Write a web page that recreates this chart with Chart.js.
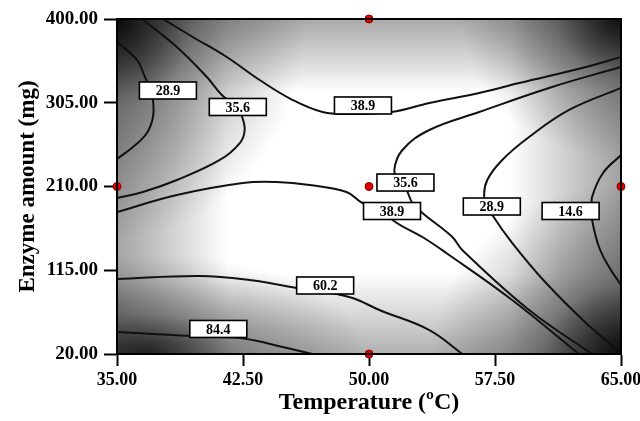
<!DOCTYPE html>
<html>
<head>
<meta charset="utf-8">
<script src="https://cdn.jsdelivr.net/npm/chart.js@4.4.0/dist/chart.umd.min.js"></script>
<style>
  html, body { margin: 0; padding: 0; background: #fff; }
  #wrap { width: 640px; height: 421px; }
</style>
</head>
<body>
<div id="wrap"><canvas id="chart" width="640" height="421"></canvas></div>
<script>
// axis ticks
const xTicks = [35, 42.5, 50, 57.5, 65];
const yTicks = [20, 115, 210, 305, 400];

// contour lines, [temperature, enzyme amount] pairs
const line289Left = [[35.00, 373.9], [36.19, 353.5], [36.66, 334.2], [36.96, 321.7], [37.14, 308.1],
  [37.14, 288.8], [36.78, 270.7], [35.95, 254.8], [35.00, 241.2]];
const line356Left = [[36.49, 400], [38.56, 368.2], [40.35, 334.2], [41.24, 313.8], [42.19, 299.0],
  [42.43, 290.0], [42.60, 274.1], [42.31, 259.3], [41.12, 240.1], [38.56, 217.4], [36.54, 203.8], [35.00, 197.0]];
const line389Top = [[37.73, 400], [39.51, 379.6], [41.53, 356.9], [43.49, 330.8], [45.46, 308.1],
  [47.24, 294.5], [48.84, 292.2], [51.34, 294.5], [53.59, 304.7], [56.56, 316.1], [58.94, 327.4],
  [62.92, 345.6], [65.00, 356.9]];
const line356Right = [[65.00, 345.6], [60.90, 322.9], [56.56, 294.5], [53.59, 274.1], [51.99, 251.4],
  [51.51, 228.7], [51.81, 215.1], [52.23, 206.0], [52.58, 191.3], [53.18, 179.9], [54.96, 152.7],
  [55.55, 138.0], [59.53, 69.9], [63.28, 20]];
const line389Low = [[35.00, 181.1], [38.56, 200.4], [42.49, 214.0], [44.50, 215.1], [46.47, 211.7],
  [48.66, 203.8], [49.61, 191.3], [51.22, 181.1], [51.40, 172.0], [53.18, 152.7], [54.60, 134.6],
  [58.52, 81.3], [62.50, 20]];
const line289Right = [[65.00, 321.7], [61.91, 296.8], [59.53, 266.1], [57.93, 240.1], [57.04, 217.4],
  [56.86, 198.1], [57.16, 186.7], [57.34, 177.7], [58.53, 145.9], [60.54, 100.5], [62.92, 55.2], [65.00, 21.1]];
const line146 = [[65.00, 245.7], [63.93, 225.3], [63.28, 198.1], [63.28, 183.3], [63.28, 172.0],
  [63.69, 141.4], [64.29, 118.7], [65.00, 98.3]];
const line602 = [[35.00, 105.1], [39.93, 108.5], [42.90, 103.9], [45.69, 94.9], [47.36, 90.3],
  [49.02, 83.5], [50.62, 69.9], [53.59, 47.2], [55.56, 20]];
const line844 = [[35.00, 45.0], [39.34, 40.4], [41.00, 39.3], [42.72, 37.0], [44.86, 27.9], [46.64, 20]];

// contour labels
const labelTemps = [38.03, 42.19, 49.64, 52.17, 51.37, 57.31, 62.00, 47.39, 41.03];
const labelAmounts = [318.9, 300.2, 301.9, 214.5, 182.2, 187.3, 182.2, 97.7, 48.4];
const labelTexts = ['28.9', '35.6', '38.9', '35.6', '38.9', '28.9', '14.6', '60.2', '84.4'];

// design points (red)
const designTemps = [35, 50, 50, 50, 65];
const designAmounts = [210, 400, 210, 20, 210];

const contourLines = [line289Left, line356Left, line389Top, line356Right, line389Low,
  line289Right, line146, line602, line844];

const serif = "'Liberation Serif', 'Times New Roman', serif";

// grey shading behind the contours
const shading = {
  id: 'shading',
  beforeDraw(chart) {
    const { ctx, chartArea: a } = chart;
    const w = a.right - a.left, h = a.bottom - a.top;
    ctx.save();
    ctx.beginPath();
    ctx.rect(a.left, a.top, w, h);
    ctx.clip();
    ctx.fillStyle = '#fff';
    ctx.fillRect(a.left, a.top, w, h);

    ctx.globalCompositeOperation = 'multiply';
    let g = ctx.createLinearGradient(a.left, 0, a.right, 0);
    g.addColorStop(0, '#a4a4a4');
    g.addColorStop(0.22, '#fff');
    g.addColorStop(0.78, '#fff');
    g.addColorStop(1, '#a0a0a0');
    ctx.fillStyle = g;
    ctx.fillRect(a.left, a.top, w, h);
    g = ctx.createLinearGradient(0, a.top, 0, a.bottom);
    g.addColorStop(0, '#a8a8a8');
    g.addColorStop(0.22, '#fff');
    g.addColorStop(0.76, '#fff');
    g.addColorStop(1, '#b0b0b0');
    ctx.fillStyle = g;
    ctx.fillRect(a.left, a.top, w, h);
    ctx.globalCompositeOperation = 'source-over';

    // dark corners: [x, y, rx, ry, alpha]
    const corners = [
      [a.left, a.top, 190, 220, 0.9],
      [a.right, a.top, 160, 140, 0.85],
      [a.left + 30, a.bottom, 220, 100, 0.75],
      [a.right, a.bottom, 190, 170, 0.9]
    ];
    corners.forEach(([cx, cy, rx, ry, al]) => {
      ctx.save();
      ctx.translate(cx, cy);
      ctx.scale(rx / 100, ry / 100);
      const rg = ctx.createRadialGradient(0, 0, 0, 0, 0, 100);
      rg.addColorStop(0, `rgba(0,0,0,${al})`);
      rg.addColorStop(0.4, `rgba(0,0,0,${al * 0.38})`);
      rg.addColorStop(1, 'rgba(0,0,0,0)');
      ctx.fillStyle = rg;
      ctx.fillRect(-100, -100, 200, 200);
      ctx.restore();
    });
    ctx.restore();
  }
};

// boxed contour labels and the plot frame
const contourLabels = {
  id: 'contourLabels',
  afterDatasetsDraw(chart) {
    const { ctx, chartArea: a } = chart;
    const xs = chart.scales.x, ys = chart.scales.y;
    ctx.save();
    ctx.font = `bold 14px ${serif}`;
    ctx.textAlign = 'center';
    ctx.textBaseline = 'middle';
    labelTexts.forEach((t, i) => {
      const px = xs.getPixelForValue(labelTemps[i]);
      const py = ys.getPixelForValue(labelAmounts[i]);
      ctx.fillStyle = '#fff';
      ctx.fillRect(px - 28.5, py - 8.5, 57, 17);
      ctx.strokeStyle = '#000';
      ctx.lineWidth = 1.6;
      ctx.strokeRect(px - 28.5, py - 8.5, 57, 17);
      ctx.fillStyle = '#000';
      ctx.fillText(t, px, py + 1);
    });
    ctx.strokeStyle = '#000';
    ctx.lineWidth = 2;
    ctx.strokeRect(a.left, a.top, a.right - a.left, a.bottom - a.top);
    ctx.restore();
  }
};

const datasets = [{
  data: designTemps.map((t, i) => ({ x: t, y: designAmounts[i] })),
  pointRadius: 4,
  pointBackgroundColor: '#e00000',
  pointBorderColor: '#8a0000',
  pointBorderWidth: 1,
  showLine: false,
  clip: false
}];
contourLines.forEach(line => {
  datasets.push({
    data: line.map(p => ({ x: p[0], y: p[1] })),
    showLine: true,
    borderColor: '#111',
    borderWidth: 2,
    pointRadius: 0,
    tension: 0.4,
    fill: false
  });
});

function fixTicks(values) {
  return scale => { scale.ticks = values.map(v => ({ value: v })); };
}

new Chart(document.getElementById('chart'), {
  type: 'scatter',
  data: { datasets },
  options: {
    responsive: false,
    animation: false,
    devicePixelRatio: 1,
    layout: { padding: { top: 19, right: 19, left: 0, bottom: 0 } },
    plugins: { legend: { display: false }, tooltip: { enabled: false } },
    scales: {
      x: {
        type: 'linear',
        min: 35,
        max: 65,
        afterBuildTicks: fixTicks(xTicks),
        afterFit: s => { s.height = 67; s.paddingLeft = 0; s.paddingRight = 0; },
        grid: { drawOnChartArea: false, drawTicks: true, tickLength: 12, tickWidth: 2, tickColor: '#000' },
        border: { display: true, color: '#000', width: 2 },
        ticks: {
          padding: 4,
          color: '#000',
          maxRotation: 0,
          autoSkip: false,
          font: { family: serif, size: 18, weight: 'bold' },
          callback: v => Number(v).toFixed(2)
        },
        title: {
          display: true,
          text: 'Temperature (ºC)',
          color: '#000',
          font: { family: serif, size: 24, weight: 'bold' },
          padding: { top: 0, bottom: 4 }
        }
      },
      y: {
        type: 'linear',
        min: 20,
        max: 400,
        afterBuildTicks: fixTicks(yTicks),
        afterFit: s => { s.width = 117; s.paddingTop = 0; s.paddingBottom = 0; },
        grid: { drawOnChartArea: false, drawTicks: true, tickLength: 13, tickWidth: 2, tickColor: '#000' },
        border: { display: true, color: '#000', width: 2 },
        ticks: {
          padding: 6,
          color: '#000',
          autoSkip: false,
          font: { family: serif, size: 19, weight: 'bold' },
          callback: v => Number(v).toFixed(2)
        },
        title: {
          display: true,
          text: 'Enzyme amount (mg)',
          color: '#000',
          font: { family: serif, size: 23, weight: 'bold' },
          padding: { top: 14, bottom: 0 }
        }
      }
    }
  },
  plugins: [shading, contourLabels]
});
</script>
</body>
</html>
